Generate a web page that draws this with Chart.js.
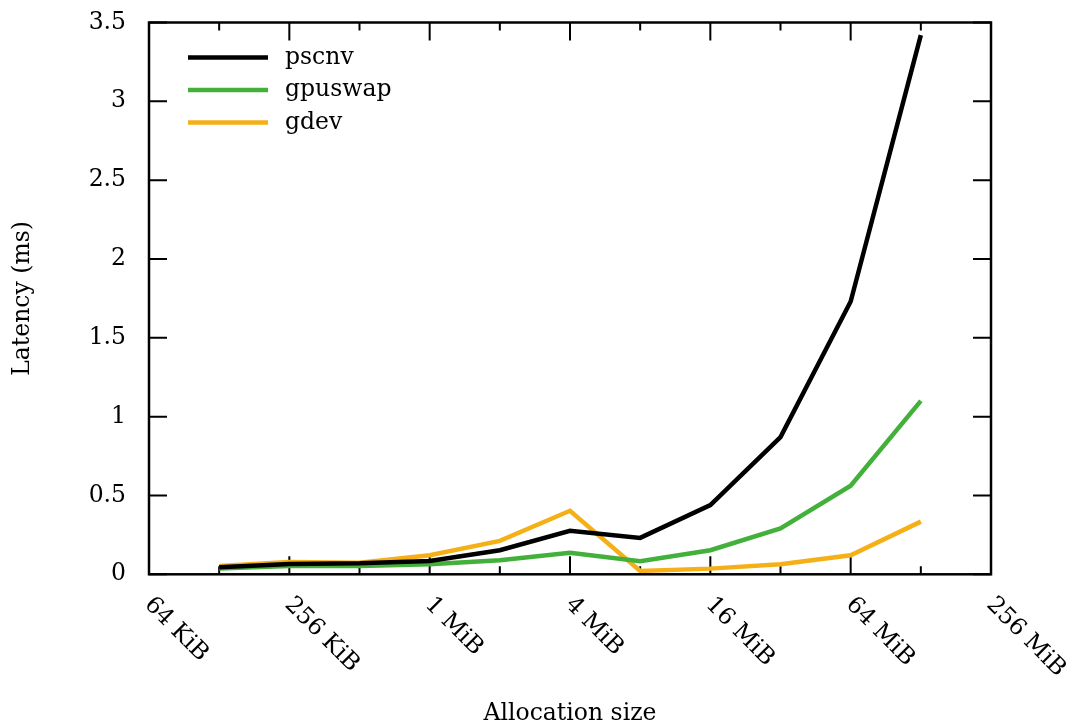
<!DOCTYPE html>
<html>
<head>
<meta charset="utf-8">
<script src="https://cdn.jsdelivr.net/npm/chart.js@4/dist/chart.umd.min.js"></script>
<style>
  body { margin: 0; background: #fff; }
</style>
</head>
<body>
<canvas id="chart" width="1067" height="722"></canvas>
<script>
// allocation sizes (KiB) of the measured points
const sizesKiB = [128, 256, 512, 1024, 2048, 4096, 8192, 16384, 32768, 65536, 131072];

// latency in ms
const pscnv   = [0.045, 0.065, 0.07, 0.085, 0.153, 0.276, 0.231, 0.439, 0.870, 1.73, 3.42];
const gpuswap = [0.036, 0.053, 0.053, 0.064, 0.089, 0.136, 0.083, 0.153, 0.291, 0.562, 1.10];
const gdev    = [0.053, 0.078, 0.074, 0.121, 0.212, 0.403, 0.021, 0.036, 0.064, 0.121, 0.334];

// x tick labels (every 4x) and where they sit, in KiB
const tickKiB    = [64, 256, 1024, 4096, 16384, 65536, 262144];
const tickLabels = ['64 KiB', '256 KiB', '1 MiB', '4 MiB', '16 MiB', '64 MiB', '256 MiB'];

const FONT = { family: 'DejaVu Serif', size: 23.5 };

const toPoints = arr => arr.map((v, i) => ({ x: Math.log2(sizesKiB[i]), y: v }));

// gnuplot look: frame, inward ticks (mirrored), rotated x labels, legend in the plot
const gnuplotLook = {
  id: 'gnuplotLook',
  beforeDatasetsDraw(chart) {
    const { ctx, chartArea: a, scales: { x, y } } = chart;
    ctx.save();
    ctx.strokeStyle = '#000';
    ctx.lineWidth = 2;
    ctx.beginPath();
    // x ticks: every doubling, long ones at the labelled sizes
    for (let v = x.min; v <= x.max; v++) {
      const px = x.getPixelForValue(v);
      const len = (v % 2 === 0) ? 18 : 8;
      ctx.moveTo(px, a.bottom); ctx.lineTo(px, a.bottom - len);
      ctx.moveTo(px, a.top); ctx.lineTo(px, a.top + len);
    }
    // y ticks
    for (let v = y.min; v <= y.max + 1e-9; v += 0.5) {
      const py = y.getPixelForValue(v);
      ctx.moveTo(a.left, py); ctx.lineTo(a.left + 18, py);
      ctx.moveTo(a.right, py); ctx.lineTo(a.right - 18, py);
    }
    ctx.stroke();
    ctx.restore();
  },
  afterDraw(chart) {
    const { ctx, chartArea: a, scales: { x } } = chart;
    ctx.save();
    // frame
    ctx.strokeStyle = '#000';
    ctx.lineWidth = 2.5;
    ctx.strokeRect(a.left, a.top, a.right - a.left, a.bottom - a.top);

    // rotated x tick labels, reading down to the right
    ctx.fillStyle = '#000';
    ctx.font = `${FONT.size}px "${FONT.family}"`;
    ctx.textAlign = 'left';
    ctx.textBaseline = 'middle';
    tickKiB.forEach((k, i) => {
      const px = x.getPixelForValue(Math.log2(k));
      ctx.save();
      ctx.translate(px - 1, a.bottom + 27);
      ctx.rotate(Math.PI / 4);
      ctx.fillText(tickLabels[i], 0, 0);
      ctx.restore();
    });

    // legend, top left inside the plot
    chart.data.datasets.forEach((ds, i) => {
      const ly = a.top + 35 + i * 32.5;
      ctx.strokeStyle = ds.borderColor;
      ctx.lineWidth = 4.5;
      ctx.beginPath();
      ctx.moveTo(a.left + 39, ly);
      ctx.lineTo(a.left + 119, ly);
      ctx.stroke();
      ctx.fillStyle = '#000';
      ctx.fillText(ds.label, a.left + 136, ly);
    });
    ctx.restore();
  }
};

new Chart(document.getElementById('chart').getContext('2d'), {
  type: 'line',
  data: {
    datasets: [
      { label: 'pscnv',   data: toPoints(pscnv),   borderColor: '#000000' },
      { label: 'gpuswap', data: toPoints(gpuswap), borderColor: '#44b03c' },
      { label: 'gdev',    data: toPoints(gdev),    borderColor: '#f6b017' }
    ]
  },
  options: {
    responsive: false,
    animation: false,
    layout: { padding: { top: 22.5, right: 76, left: 0, bottom: 0 } },
    elements: {
      line: { borderWidth: 4.5, tension: 0, fill: false },
      point: { radius: 0 }
    },
    plugins: {
      legend: { display: false },
      tooltip: { enabled: false }
    },
    scales: {
      x: {
        type: 'linear',
        min: 6,
        max: 18,
        grid: { display: false },
        border: { display: false },
        ticks: { display: false },
        title: {
          display: true,
          text: 'Allocation size',
          color: '#000',
          font: FONT,
          padding: { top: 0, bottom: -6 }
        },
        afterFit: s => { s.height = 147.7; }
      },
      y: {
        min: 0,
        max: 3.5,
        grid: { display: false, drawTicks: false },
        border: { display: false },
        ticks: {
          stepSize: 0.5,
          color: '#000',
          font: FONT,
          padding: 23,
          callback: v => String(v)
        },
        title: {
          display: true,
          text: 'Latency (ms)',
          color: '#000',
          font: FONT,
          padding: { top: 9, bottom: 0 }
        },
        // fixed width, and no extra top/bottom room for the labels
        afterFit: s => { s.width = 149; s.paddingTop = 0; s.paddingBottom = 0; }
      }
    }
  },
  plugins: [gnuplotLook]
});
</script>
</body>
</html>
